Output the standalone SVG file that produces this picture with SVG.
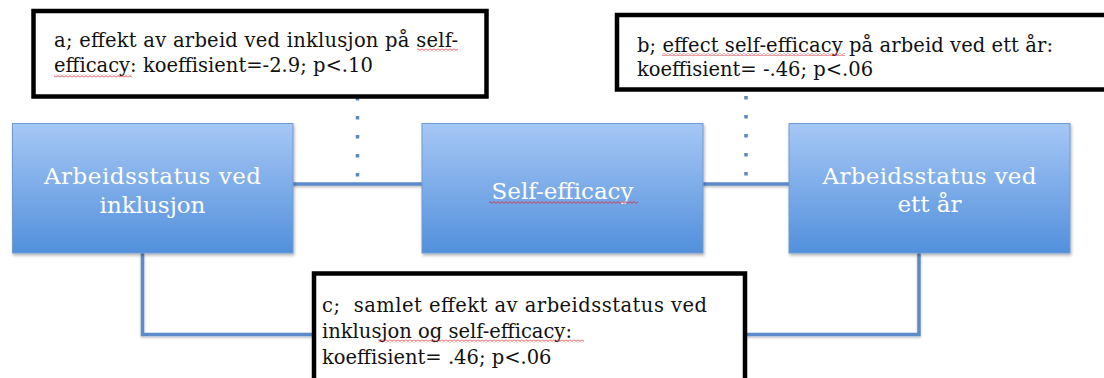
<svg xmlns="http://www.w3.org/2000/svg" width="1104" height="378" viewBox="0 0 1104 378">
  <defs>
    <linearGradient id="nodeFill" x1="0" y1="0" x2="0" y2="1">
      <stop offset="0" stop-color="#a6c7f5"/>
      <stop offset="1" stop-color="#5290dc"/>
    </linearGradient>
    <filter id="shadow" x="-5%" y="-5%" width="110%" height="115%">
      <feDropShadow dx="1" dy="2" stdDeviation="1.5" flood-color="#000" flood-opacity="0.3"/>
    </filter>
    <filter id="lineShadow" filterUnits="userSpaceOnUse" x="0" y="0" width="1104" height="378">
      <feDropShadow dx="0" dy="1.5" stdDeviation="1" flood-color="#000" flood-opacity="0.25"/>
    </filter>
    <pattern id="squiggle" width="4" height="3" patternUnits="userSpaceOnUse">
      <path d="M0 2.4 L2 0.6 L4 2.4" fill="none" stroke="#e0202a" stroke-width="0.8"/>
    </pattern>
  </defs>
  <style>
    .node rect { fill: url(#nodeFill); stroke: #6f9bd2; stroke-width: 1; filter: url(#shadow); }
    .node text { font-family: "DejaVu Serif", "Liberation Serif", serif; font-size: 23px; fill: #ffffff; text-anchor: middle; }
    .note rect { fill: #ffffff; stroke: #000000; stroke-width: 4.5; }
    .note text { font-family: "DejaVu Serif", "Liberation Serif", serif; font-size: 19.5px; fill: #111111; white-space: pre; }
    .conn { fill: none; stroke: #5b8bc9; stroke-width: 3.5; filter: url(#lineShadow); }
    .dots { fill: none; stroke: #5f87bd; stroke-width: 3.5; stroke-dasharray: 3.5 15.5; }
    .node rect.sq, .note rect.sq { fill: url(#squiggle); stroke: none; filter: none; }
  </style>

  <g id="connectors">
    <line class="conn" x1="293" y1="184" x2="422" y2="184"/>
    <line class="conn" x1="703" y1="184" x2="789" y2="184"/>
    <polyline class="conn" points="142.5,253 142.5,334.5 314,334.5"/>
    <polyline class="conn" points="745,334.5 919,334.5 919,253"/>
    <line class="dots" x1="357.5" y1="97" x2="357.5" y2="180"/>
    <line class="dots" x1="746" y1="96" x2="746" y2="180"/>
  </g>

  <g id="node-arbeid-inklusjon" class="node">
    <rect x="12.5" y="123.5" width="280.5" height="129.5"/>
    <text x="152.5" y="184" textLength="217">Arbeidsstatus ved</text>
    <text x="152.5" y="213">inklusjon</text>
  </g>

  <g id="node-self-efficacy" class="node">
    <rect x="422" y="123.5" width="281" height="129.5"/>
    <text x="562.5" y="199">Self-efficacy</text>
    <rect class="sq" x="489" y="201" width="149" height="3"/>
  </g>

  <g id="node-arbeid-ett-aar" class="node">
    <rect x="789" y="123.5" width="281" height="129.5"/>
    <text x="929.5" y="184" textLength="214">Arbeidsstatus ved</text>
    <text x="929.5" y="212">ett år</text>
  </g>

  <g id="note-a" class="note">
    <rect x="33.5" y="11" width="453" height="85.5"/>
    <text x="54" y="47" textLength="404">a; effekt av arbeid ved inklusjon på self-</text>
    <text x="54" y="72">efficacy: koeffisient=-2.9; p&lt;.10</text>
    <rect class="sq" x="417" y="48.5" width="41" height="3"/>
    <rect class="sq" x="54" y="74.5" width="78" height="3"/>
  </g>

  <g id="note-b" class="note">
    <rect x="617" y="15" width="500" height="74.5"/>
    <text x="637" y="52" textLength="416">b; effect self-efficacy på arbeid ved ett år:</text>
    <text x="637" y="76">koeffisient= -.46; p&lt;.06</text>
    <rect class="sq" x="662" y="53" width="183" height="3"/>
  </g>

  <g id="note-c" class="note">
    <rect x="314" y="273.5" width="431" height="120"/>
    <text x="322" y="312" textLength="385">c;  samlet effekt av arbeidsstatus ved</text>
    <text x="322" y="338">inklusjon og self-efficacy:</text>
    <text x="322" y="364">koeffisient= .46; p&lt;.06</text>
    <rect class="sq" x="378" y="339.5" width="206" height="3"/>
  </g>
</svg>
